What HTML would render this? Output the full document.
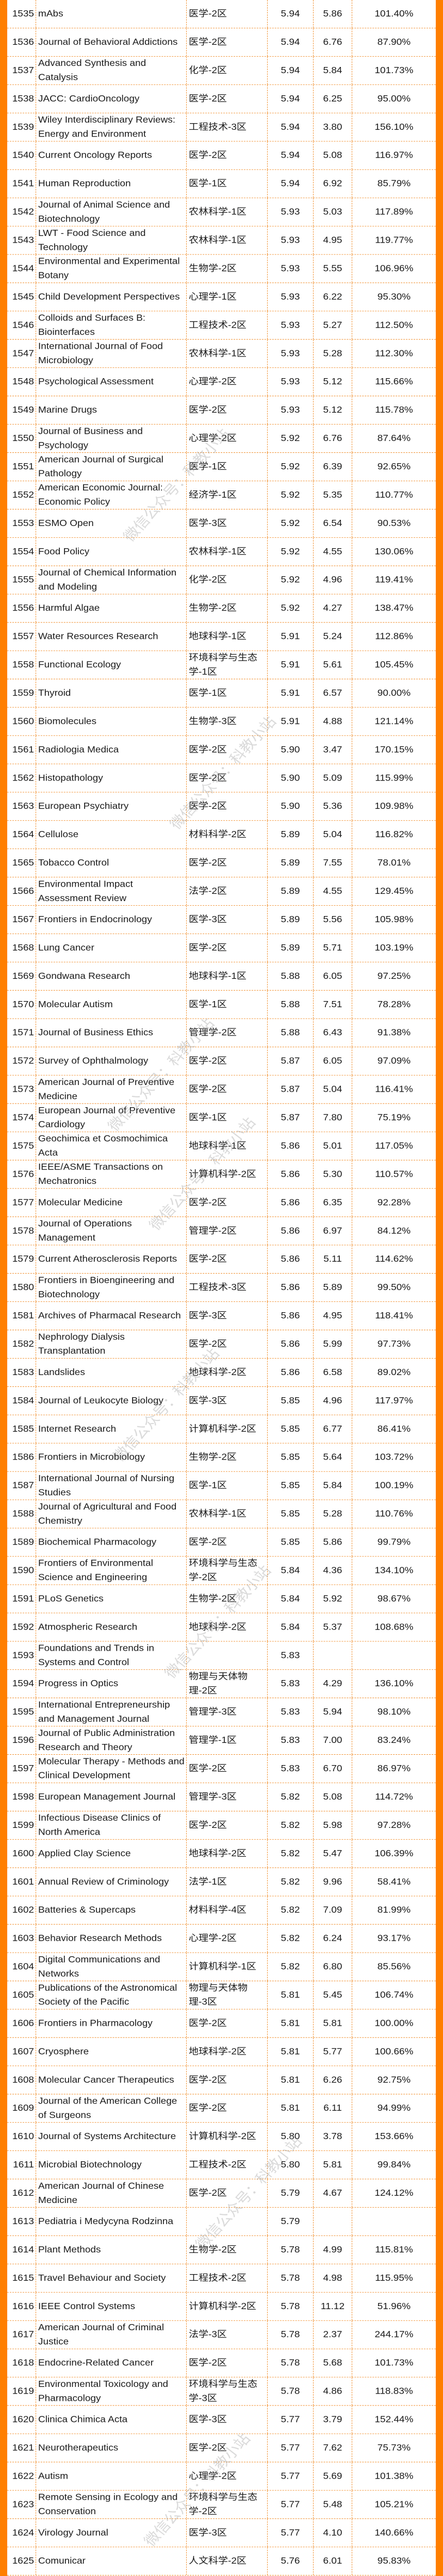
<!DOCTYPE html>
<html><head><meta charset="utf-8">
<meta name="viewport" content="width=859, initial-scale=1">
<style>
html{margin:0;padding:0;width:859px;overflow:hidden;background:#fff;}
body{margin:0;padding:0;width:859px;overflow:hidden;background:#fff;font-family:"Liberation Sans","Noto Sans CJK SC",sans-serif;color:#1a1a1a;}
#page{position:relative;width:859px;height:5461px;overflow:hidden;transform-origin:0 0;}
.bar{position:absolute;top:0;width:14px;height:5461px;background:#ff7f00;}
#tbl{position:absolute;left:14px;top:0;width:831px;height:5461px;}
.row{position:absolute;left:0;width:831px;height:60px;border-bottom:1px dashed #f08a24;box-sizing:border-box;overflow:hidden;}
.c{position:absolute;top:0;height:59px;display:flex;align-items:center;box-sizing:border-box;font-size:19px;border-right:1px dashed #f08a24;overflow:hidden;}
.c.rank{left:0;width:56px;justify-content:flex-end;padding-right:3px;}
.c.name{left:56px;width:292px;padding-left:4px;padding-right:2px;}
.c.cat{left:348px;width:157px;padding-left:4px;padding-right:8px;}
.c.if{left:505px;width:89px;justify-content:center;}
.c.five{left:594px;width:75px;justify-content:center;}
.c.ratio{left:669px;width:162px;justify-content:center;border-right:none;}
.inner{max-height:60px;overflow:hidden;line-height:30px;}
.wm{position:absolute;color:rgba(150,150,150,0.35);font-size:30px;line-height:36px;transform:rotate(-50deg);transform-origin:left top;white-space:nowrap;font-family:"Noto Sans CJK SC",sans-serif;pointer-events:none;}
</style></head>
<body>
<div id="page">
<div class="bar" style="left:0"></div>
<div class="bar" style="left:845px"></div>
<div id="tbl"></div>
</div>
<script>
const ranks = [];
for (let r = 1535; r <= 1625; r++) ranks.push(r);
const names = ["mAbs","Journal of Behavioral Addictions","Advanced Synthesis and Catalysis","JACC: CardioOncology","Wiley Interdisciplinary Reviews: Energy and Environment","Current Oncology Reports","Human Reproduction","Journal of Animal Science and Biotechnology","LWT - Food Science and Technology","Environmental and Experimental Botany","Child Development Perspectives","Colloids and Surfaces B: Biointerfaces","International Journal of Food Microbiology","Psychological Assessment","Marine Drugs","Journal of Business and Psychology","American Journal of Surgical Pathology","American Economic Journal: Economic Policy","ESMO Open","Food Policy","Journal of Chemical Information and Modeling","Harmful Algae","Water Resources Research","Functional Ecology","Thyroid","Biomolecules","Radiologia Medica","Histopathology","European Psychiatry","Cellulose","Tobacco Control","Environmental Impact Assessment Review","Frontiers in Endocrinology","Lung Cancer","Gondwana Research","Molecular Autism","Journal of Business Ethics","Survey of Ophthalmology","American Journal of Preventive Medicine","European Journal of Preventive Cardiology","Geochimica et Cosmochimica Acta","IEEE/ASME Transactions on Mechatronics","Molecular Medicine","Journal of Operations Management","Current Atherosclerosis Reports","Frontiers in Bioengineering and Biotechnology","Archives of Pharmacal Research","Nephrology Dialysis Transplantation","Landslides","Journal of Leukocyte Biology","Internet Research","Frontiers in Microbiology","International Journal of Nursing Studies","Journal of Agricultural and Food Chemistry","Biochemical Pharmacology","Frontiers of Environmental Science and Engineering","PLoS Genetics","Atmospheric Research","Foundations and Trends in Systems and Control","Progress in Optics","International Entrepreneurship and Management Journal","Journal of Public Administration Research and Theory","Molecular Therapy - Methods and Clinical Development","European Management Journal","Infectious Disease Clinics of North America","Applied Clay Science","Annual Review of Criminology","Batteries & Supercaps","Behavior Research Methods","Digital Communications and Networks","Publications of the Astronomical Society of the Pacific","Frontiers in Pharmacology","Cryosphere","Molecular Cancer Therapeutics","Journal of the American College of Surgeons","Journal of Systems Architecture","Microbial Biotechnology","American Journal of Chinese Medicine","Pediatria i Medycyna Rodzinna","Plant Methods","Travel Behaviour and Society","IEEE Control Systems","American Journal of Criminal Justice","Endocrine-Related Cancer","Environmental Toxicology and Pharmacology","Clinica Chimica Acta","Neurotherapeutics","Autism","Remote Sensing in Ecology and Conservation","Virology Journal","Comunicar"];
const cats = ["医学-2区","医学-2区","化学-2区","医学-2区","工程技术-3区","医学-2区","医学-1区","农林科学-1区","农林科学-1区","生物学-2区","心理学-1区","工程技术-2区","农林科学-1区","心理学-2区","医学-2区","心理学-2区","医学-1区","经济学-1区","医学-3区","农林科学-1区","化学-2区","生物学-2区","地球科学-1区","环境科学与生态学-1区","医学-1区","生物学-3区","医学-2区","医学-2区","医学-2区","材料科学-2区","医学-2区","法学-2区","医学-3区","医学-2区","地球科学-1区","医学-1区","管理学-2区","医学-2区","医学-2区","医学-1区","地球科学-1区","计算机科学-2区","医学-2区","管理学-2区","医学-2区","工程技术-3区","医学-3区","医学-2区","地球科学-2区","医学-3区","计算机科学-2区","生物学-2区","医学-1区","农林科学-1区","医学-2区","环境科学与生态学-2区","生物学-2区","地球科学-2区","","物理与天体物理-2区","管理学-3区","管理学-1区","医学-2区","管理学-3区","医学-2区","地球科学-2区","法学-1区","材料科学-4区","心理学-2区","计算机科学-1区","物理与天体物理-3区","医学-2区","地球科学-2区","医学-2区","医学-2区","计算机科学-2区","工程技术-2区","医学-2区","","生物学-2区","工程技术-2区","计算机科学-2区","法学-3区","医学-2区","环境科学与生态学-3区","医学-3区","医学-2区","心理学-2区","环境科学与生态学-2区","医学-3区","人文科学-2区"];
const ifs = ["5.94","5.94","5.94","5.94","5.94","5.94","5.94","5.93","5.93","5.93","5.93","5.93","5.93","5.93","5.93","5.92","5.92","5.92","5.92","5.92","5.92","5.92","5.91","5.91","5.91","5.91","5.90","5.90","5.90","5.89","5.89","5.89","5.89","5.89","5.88","5.88","5.88","5.87","5.87","5.87","5.86","5.86","5.86","5.86","5.86","5.86","5.86","5.86","5.86","5.85","5.85","5.85","5.85","5.85","5.85","5.84","5.84","5.84","5.83","5.83","5.83","5.83","5.83","5.82","5.82","5.82","5.82","5.82","5.82","5.82","5.81","5.81","5.81","5.81","5.81","5.80","5.80","5.79","5.79","5.78","5.78","5.78","5.78","5.78","5.78","5.77","5.77","5.77","5.77","5.77","5.76"];
const fives = ["5.86","6.76","5.84","6.25","3.80","5.08","6.92","5.03","4.95","5.55","6.22","5.27","5.28","5.12","5.12","6.76","6.39","5.35","6.54","4.55","4.96","4.27","5.24","5.61","6.57","4.88","3.47","5.09","5.36","5.04","7.55","4.55","5.56","5.71","6.05","7.51","6.43","6.05","5.04","7.80","5.01","5.30","6.35","6.97","5.11","5.89","4.95","5.99","6.58","4.96","6.77","5.64","5.84","5.28","5.86","4.36","5.92","5.37","","4.29","5.94","7.00","6.70","5.08","5.98","5.47","9.96","7.09","6.24","6.80","5.45","5.81","5.77","6.26","6.11","3.78","5.81","4.67","","4.99","4.98","11.12","2.37","5.68","4.86","3.79","7.62","5.69","5.48","4.10","6.01"];
const ratios = ["101.40%","87.90%","101.73%","95.00%","156.10%","116.97%","85.79%","117.89%","119.77%","106.96%","95.30%","112.50%","112.30%","115.66%","115.78%","87.64%","92.65%","110.77%","90.53%","130.06%","119.41%","138.47%","112.86%","105.45%","90.00%","121.14%","170.15%","115.99%","109.98%","116.82%","78.01%","129.45%","105.98%","103.19%","97.25%","78.28%","91.38%","97.09%","116.41%","75.19%","117.05%","110.57%","92.28%","84.12%","114.62%","99.50%","118.41%","97.73%","89.02%","117.97%","86.41%","103.72%","100.19%","110.76%","99.79%","134.10%","98.67%","108.68%","","136.10%","98.10%","83.24%","86.97%","114.72%","97.28%","106.39%","58.41%","81.99%","93.17%","85.56%","106.74%","100.00%","100.66%","92.75%","94.99%","153.66%","99.84%","124.12%","","115.81%","115.95%","51.96%","244.17%","101.73%","118.83%","152.44%","75.73%","101.38%","105.21%","140.66%","95.83%"];

const page = document.getElementById('page');
const tbl = document.getElementById('tbl');
const ROW_H = 60;
function cell(row, cls, text, nm) {
  const d = document.createElement('div');
  d.className = 'c ' + cls;
  
  
  const s = document.createElement('div');
  s.className = 'inner';
  s.textContent = text;
  d.appendChild(s);
  row.appendChild(d);
}
ranks.forEach((rk, i) => {
  const row = document.createElement('div');
  row.className = 'row';
  row.style.top = (i * ROW_H) + 'px';
  
  
  cell(row, 'rank', String(rk), 'rank-cell');
  cell(row, 'name', names[i], 'journal-name-cell');
  cell(row, 'cat', cats[i], 'category-cell');
  cell(row, 'if', ifs[i], 'impact-factor-cell');
  cell(row, 'five', fives[i], 'five-year-if-cell');
  cell(row, 'ratio', ratios[i], 'ratio-cell');
  tbl.appendChild(row);
});

const wmY = [1130, 1740, 2380, 2590, 3080, 3540, 4750, 5380];
const wmX = [230, 320, 200, 280, 210, 310, 370, 270];
wmY.forEach((y, i) => {
  const w = document.createElement('div');
  w.className = 'wm';
  
  
  w.style.left = wmX[i] + 'px';
  w.style.top = y + 'px';
  w.textContent = '微信公众号：科教小站';
  page.appendChild(w);
});

// fit the full 5461px table into the visible frame if the viewport is shorter
(function fit() {
  const vh = window.innerHeight;
  if (vh >= 3000 && vh < 5461) {
    const s = vh / 5461;
    page.style.transform = 'scaleY(' + s + ')';
    document.documentElement.style.height = vh + 'px';
    document.body.style.height = vh + 'px';
  } else {
    document.documentElement.style.height = '5461px';
    document.body.style.height = '5461px';
  }
})();
</script>
</body></html>
